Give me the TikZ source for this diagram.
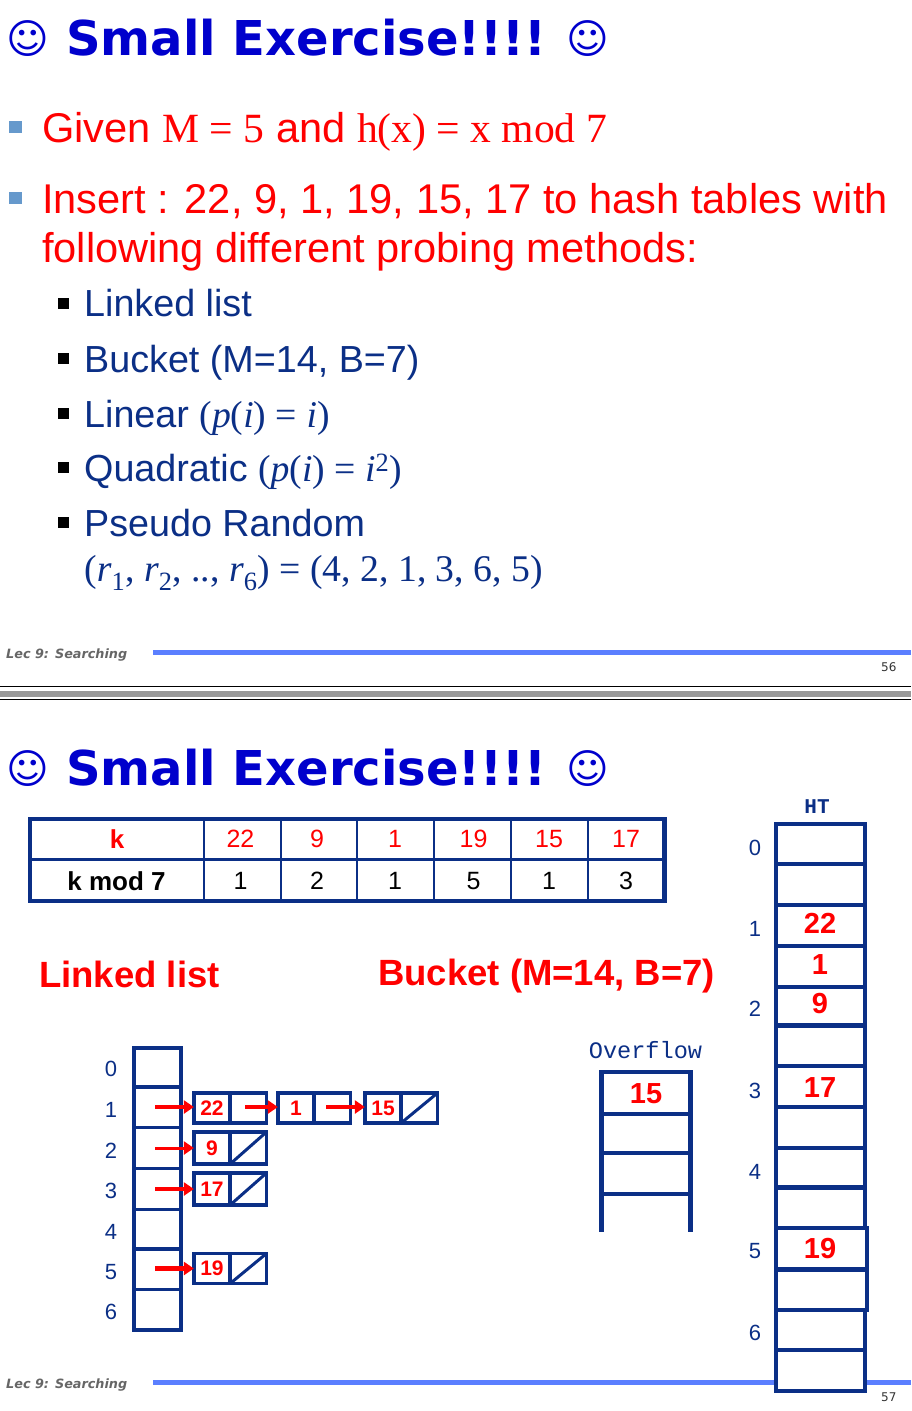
\documentclass[tikz,border=0pt]{standalone}
\usepackage{fontspec}
\usetikzlibrary{positioning,arrows.meta}
\setmainfont{Liberation Sans}
\newfontfamily\serifface{Liberation Serif}
\newfontfamily\titleface{DejaVu Sans}
\newfontfamily\monoface{Liberation Mono}
\definecolor{titleblue}{HTML}{0000CC}
\definecolor{navy}{HTML}{0B2F86}
\definecolor{markblue}{HTML}{6699CC}
\definecolor{footblue}{HTML}{5B7FFF}
\tikzset{
    textline/.style={anchor=base west, inner sep=0pt},
    titletext/.style={textline, text=titleblue, font=\titleface\bfseries\fontsize{48}{58}\selectfont},
    smiley/.style={textline, text=titleblue, font=\titleface\fontsize{41}{50}\selectfont},
    redtext/.style={textline, text=red, font=\fontsize{41.6}{48}\selectfont},
    subtext/.style={textline, text=navy, font=\fontsize{37.7}{44}\selectfont},
    bulletbig/.style={fill=markblue, inner sep=0pt, minimum size=12.5pt},
    bulletsmall/.style={fill=black, inner sep=0pt, minimum size=11pt},
    foottext/.style={textline, text=black!60, font=\titleface\bfseries\itshape\fontsize{12.8}{15}\selectfont},
    pagetext/.style={textline, text=black!80, font=\titleface\fontsize{12}{14}\selectfont},
    footline/.style={footblue, line width=5pt},
    bluerule/.style={navy, line width=3.8pt},
    thinrule/.style={navy, line width=2.2pt},
    slashrule/.style={navy, line width=3pt},
    heading/.style={textline, text=red, font=\bfseries\fontsize{36.5}{42}\selectfont},
    tablecell/.style={inner sep=0pt, font=\fontsize{25}{30}\selectfont},
    slotnum/.style={inner sep=0pt, text=navy, font=\fontsize{22}{26}\selectfont},
    htvalue/.style={inner sep=0pt, text=red, font=\bfseries\fontsize{29}{34}\selectfont},
    monolabel/.style={inner sep=0pt, text=navy, font=\monoface\fontsize{23.6}{26}\selectfont},
    listcell/.style={draw=navy, line width=3.8pt, outer sep=0pt, inner sep=0pt,
        minimum width=36.3pt, minimum height=30pt, text=red, font=\bfseries\fontsize{21}{24}\selectfont},
    redarrow/.style={-{Triangle[length=10pt,width=13pt]}, red, line width=3.5pt},
}
\begin{document}
\begin{tikzpicture}[x=1pt,y=-1pt]
    \useasboundingbox (0,0) rectangle (911,1411);

    % First slide
    \node[smiley] (smileA) at (6,53) {☺};
    \node[titletext] (titleA) at (66,55) {Small Exercise!!!!};
    \node[smiley] (smileB) at (566,53) {☺};

    \node[bulletbig] (markA) at (15.5,127) {};
    \node[redtext] (given) at (42,142) {Given {\serifface M = 5} and {\serifface h(x) = x mod 7}};
    \node[bulletbig] (markB) at (15.5,198) {};
    \node[redtext] (insert) at (42,213.5) {Insert : 22, 9, 1, 19, 15, 17 to hash tables with};
    \node[redtext] (follow) at (42,262) {following different probing methods:};

    \node[bulletsmall] (markC) at (63,303) {};
    \node[subtext] (linked) at (84,316.5) {Linked list};
    \node[bulletsmall] (markD) at (63,358.5) {};
    \node[subtext] (bucket) at (84,372) {Bucket (M=14, B=7)};
    \node[bulletsmall] (markE) at (63,413.5) {};
    \node[subtext] (linear) at (84,427.5) {Linear {\serifface(\itshape p\upshape(\itshape i\upshape) = \itshape i\upshape)}};
    \node[bulletsmall] (markF) at (63,467) {};
    \node[subtext] (quadratic) at (84,481) {Quadratic {\serifface(\itshape p\upshape(\itshape i\upshape) = \itshape i\upshape\textsuperscript{2})}};
    \node[bulletsmall] (markG) at (63,522) {};
    \node[subtext] (pseudo) at (84,536) {Pseudo Random};
    \node[subtext] (randoms) at (84,581.5) {\serifface(\textit{r}\textsubscript{1}, \textit{r}\textsubscript{2}, .., \textit{r}\textsubscript{6}) = (4, 2, 1, 3, 6, 5)};

    \node[foottext] (lecA) at (6,658) {Lec 9: Searching};
    \draw[footline] (153,652.5) -- (911,652.5);
    \node[pagetext] (pageA) at (881,671) {56};

    % Slide separator
    \draw[black, line width=1pt] (0,686) -- (911,686);
    \fill[black!40] (0,690.7) rectangle (911,697.3);
    \draw[black, line width=1pt] (0,699.3) -- (911,699.3);

    % Second slide
    \node[smiley] (smileC) at (6,783) {☺};
    \node[titletext] (titleB) at (66,785) {Small Exercise!!!!};
    \node[smiley] (smileD) at (566,783) {☺};

    \node[foottext] (lecB) at (6,1388) {Lec 9: Searching};
    \draw[footline] (153,1382.5) -- (911,1382.5);
    \node[pagetext] (pageB) at (881,1401) {57};

    % Key table
    \draw[navy, line width=4.2pt] (30.2,819) rectangle (664.5,901);
    \draw[thinrule] (30.2,859.5) -- (664.5,859.5);
    \draw[thinrule] (203.8,819) -- (203.8,901) (281,819) -- (281,901) (356.9,819) -- (356.9,901)
        (433.6,819) -- (433.6,901) (510.8,819) -- (510.8,901) (588,819) -- (588,901);
    \node[tablecell, text=red, font=\bfseries\fontsize{26}{30}\selectfont] (keyhead) at (117,839) {k};
    \node[tablecell, text=red] (keyA) at (240.5,839) {22};
    \node[tablecell, text=red] (keyB) at (317,839) {9};
    \node[tablecell, text=red] (keyC) at (395,839) {1};
    \node[tablecell, text=red] (keyD) at (473.5,839) {19};
    \node[tablecell, text=red] (keyE) at (549,839) {15};
    \node[tablecell, text=red] (keyF) at (626,839) {17};
    \node[tablecell, font=\bfseries\fontsize{26}{30}\selectfont] (modhead) at (116.5,881) {k mod 7};
    \node[tablecell] (modA) at (240.5,881) {1};
    \node[tablecell] (modB) at (317,881) {2};
    \node[tablecell] (modC) at (395,881) {1};
    \node[tablecell] (modD) at (473.5,881) {5};
    \node[tablecell] (modE) at (549,881) {1};
    \node[tablecell] (modF) at (626,881) {3};

    \node[heading] (headlist) at (39,987) {Linked list};
    \node[heading] (headbucket) at (378,985) {Bucket (M=14, B=7)};

    % Table of the linked list
    \draw[bluerule] (134,1048) rectangle (181,1330);
    \draw[bluerule] (134,1087) -- (181,1087) (134,1127.5) -- (181,1127.5) (134,1168.5) -- (181,1168.5)
        (134,1209.5) -- (181,1209.5) (134,1249) -- (181,1249) (134,1289.5) -- (181,1289.5);
    \node[slotnum] (listA) at (111,1068.5) {0};
    \node[slotnum] (listB) at (111,1109.5) {1};
    \node[slotnum] (listC) at (111,1150.5) {2};
    \node[slotnum] (listD) at (111,1190.5) {3};
    \node[slotnum] (listE) at (111,1231.5) {4};
    \node[slotnum] (listF) at (111,1272.5) {5};
    \node[slotnum] (listG) at (111,1311.5) {6};

    % List cells
    \node[listcell] (cellA) at (212,1108) {22};
    \node[listcell, right=0pt of cellA] (nextA) {};
    \node[listcell] (cellB) at (296,1108) {1};
    \node[listcell, right=0pt of cellB] (nextB) {};
    \node[listcell] (cellC) at (383,1108) {15};
    \node[listcell, right=0pt of cellC] (nextC) {};
    \node[listcell, minimum height=32pt] (cellD) at (212,1148) {9};
    \node[listcell, minimum height=32pt, right=0pt of cellD] (nextD) {};
    \node[listcell, minimum height=32pt] (cellE) at (212,1189) {17};
    \node[listcell, minimum height=32pt, right=0pt of cellE] (nextE) {};
    \node[listcell] (cellF) at (212,1268.5) {19};
    \node[listcell, right=0pt of cellF] (nextF) {};
    \draw[slashrule] (nextC.south west) -- (nextC.north east);
    \draw[slashrule] (nextD.south west) -- (nextD.north east);
    \draw[slashrule] (nextE.south west) -- (nextE.north east);
    \draw[slashrule] (nextF.south west) -- (nextF.north east);

    % Arrows
    \coordinate (tailA) at (155,1107);
    \coordinate (tailB) at (155,1148);
    \coordinate (tailC) at (155,1189);
    \coordinate (tailD) at (155,1268.5);
    \coordinate (tailE) at (245,1107);
    \coordinate (tailF) at (326,1107);
    \draw[redarrow] (tailA) -- (tailA -| cellA.west);
    \draw[redarrow, line width=3pt] (tailB) -- (tailB -| cellD.west);
    \draw[redarrow] (tailC) -- (tailC -| cellE.west);
    \draw[redarrow, line width=5.2pt] (tailD) -- (tailD -| cellF.west);
    \draw[redarrow] (tailE) -- (tailE -| cellB.west);
    \draw[redarrow] (tailF) -- (tailF -| cellC.west);

    % Overflow
    \node[monolabel] (overlabel) at (645.5,1050) {Overflow};
    \draw[navy, line width=4.6pt] (601.3,1231.7) -- (601.3,1072) -- (690.7,1072) -- (690.7,1231.7);
    \draw[bluerule] (601.3,1113.7) -- (690.7,1113.7) (601.3,1152.7) -- (690.7,1152.7) (601.3,1193.7) -- (690.7,1193.7);
    \node[htvalue] (overA) at (646,1094) {15};

    % Hash table
    \node[monolabel, font=\monoface\bfseries\fontsize{21}{26}\selectfont] (htlabel) at (817,807) {HT};
    \draw[bluerule, fill=white] (776,824.3) rectangle (865,1390.7);
    \draw[bluerule] (776,863.7) -- (865,863.7) (776,905) -- (865,905) (776,945.7) -- (865,945.7)
        (776,986.7) -- (865,986.7) (776,1066) -- (865,1066) (776,1107) -- (865,1107)
        (776,1148) -- (865,1148) (776,1350) -- (865,1350);
    \draw[navy, line width=5.2pt] (776,1025.7) -- (865,1025.7) (776,1187.3) -- (865,1187.3);
    \draw[bluerule, fill=white] (776,1228.3) rectangle (867,1310.3);
    \draw[navy, line width=4.6pt] (776,1269.3) -- (867,1269.3);
    \node[slotnum] (htA) at (755,847.5) {0};
    \node[slotnum] (htB) at (755,928.5) {1};
    \node[slotnum] (htC) at (755,1008.5) {2};
    \node[slotnum] (htD) at (755,1090.5) {3};
    \node[slotnum] (htE) at (755,1171.5) {4};
    \node[slotnum] (htF) at (755,1251.5) {5};
    \node[slotnum] (htG) at (755,1332.5) {6};
    \node[htvalue] (valA) at (820,923.5) {22};
    \node[htvalue] (valB) at (820,965) {1};
    \node[htvalue] (valC) at (820,1003.5) {9};
    \node[htvalue] (valD) at (820,1087.5) {17};
    \node[htvalue] (valE) at (820,1248.5) {19};
\end{tikzpicture}
\end{document}
